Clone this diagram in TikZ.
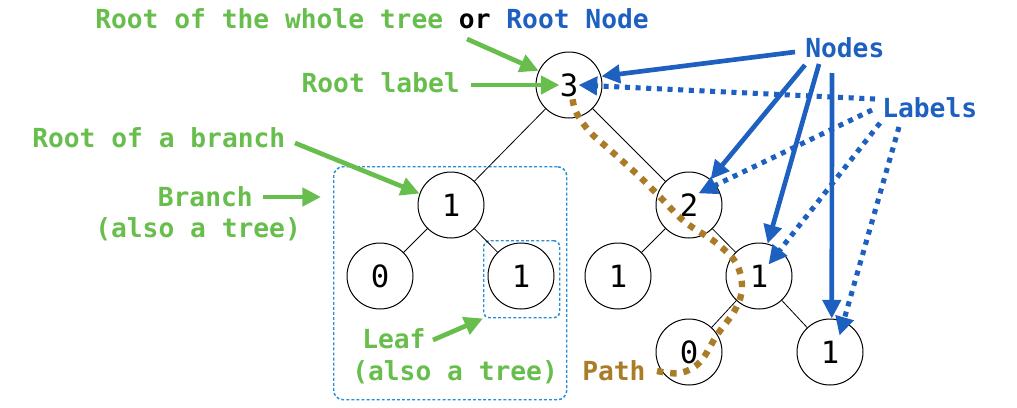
\documentclass[tikz,border=0pt]{standalone}
\usepackage{fontspec}
\setmonofont{DejaVu Sans Mono}
\usetikzlibrary{arrows.meta,calc}
\definecolor{tgreen}{RGB}{104,190,76}
\definecolor{tblue}{RGB}{30,96,192}
\definecolor{tbrown}{RGB}{170,124,40}
\definecolor{tbox}{RGB}{40,140,215}
\begin{document}
\begin{tikzpicture}[x=0.75pt,y=-0.75pt,
  txt/.style={font=\ttfamily\bfseries\fontsize{19.7}{23}\selectfont, inner sep=0pt},
  circ/.style={circle, draw, line width=0.75pt, minimum size=49.5pt, inner sep=0pt},
  dig/.style={font=\ttfamily\fontsize{23}{25}\selectfont, inner sep=0pt},
  garrow/.style={draw=tgreen, line width=3.5pt, -{Triangle[length=14pt,width=13.5pt]}, fill=tgreen},
  barrow/.style={draw=tblue, line width=3.5pt, -{Triangle[length=14pt,width=13.5pt]}},
  bdot/.style={draw=tblue, line width=3.8pt, dash pattern=on 3.8pt off 4.2pt, -{Triangle[length=14pt,width=13.5pt]}},
  brownpath/.style={draw=tbrown, line width=4.8pt, dash pattern=on 4.8pt off 5.2pt},
  dotbox/.style={draw=tbox, line width=1.1pt, dash pattern=on 2.2pt off 1.6pt},
  edge/.style={draw=black, line width=0.6pt}]
\useasboundingbox (0,0) rectangle (1017,407);

% boxes
\node[dotbox, rounded corners=7pt, anchor=north west, minimum width=174.75pt, minimum height=174.75pt] (brbox) at (333,166) {};
\node[dotbox, rounded corners=4pt, anchor=north west, minimum width=57pt, minimum height=57.75pt] (leafbox) at (483,240) {};

% tree nodes
\node[circ] (root) at (569,85) {};
\node[circ] (n1) at (451,205) {};
\node[circ] (n10) at (380,276) {};
\node[circ] (n11) at (521,276) {};
\node[circ] (n2) at (689,205) {};
\node[circ] (n20) at (618,276) {};
\node[circ] (n21) at (759,276) {};
\node[circ] (n210) at (689,352) {};
\node[circ] (n211) at (830,352) {};

\node[dig] (l3) at (root) {3};
\node[dig] (l1) at (n1) {1};
\node[dig] (l10) at (n10) {0};
\node[dig] (l11) at (n11) {1};
\node[dig] (l2) at (n2) {2};
\node[dig] (l20) at (n20) {1};
\node[dig] (l21) at (n21) {1};
\node[dig] (l210) at (n210) {0};
\node[dig] (l211) at (n211) {1};

\draw[edge] (root) -- (n1);
\draw[edge] (root) -- (n2);
\draw[edge] (n1) -- (n10);
\draw[edge] (n1) -- (n11);
\draw[edge] (n2) -- (n20);
\draw[edge] (n2) -- (n21);
\draw[edge] (n21) -- (n210);
\draw[edge] (n21) -- (n211);

% texts
\node[txt, anchor=base west] (title) at (95,28.5) {{\color{tgreen}Root of the whole tree} {\color{black}or} {\color{tblue}Root Node}};
\node[txt, anchor=base east, text=tgreen] (rootlabel) at (460,92.5) {Root label};
\node[txt, anchor=base west, text=tgreen] (rbranch) at (32,147.5) {Root of a branch};
\node[txt, anchor=base east, text=tgreen] (branch) at (253,206.5) {Branch};
\node[txt, anchor=base west, text=tgreen] (branch2) at (95,237) {(also a tree)};
\node[txt, anchor=base west, text=tgreen] (leaf) at (362,348.5) {Leaf};
\node[txt, anchor=base west, text=tgreen] (leaf2) at (352,380) {(also a tree)};
\node[txt, anchor=base west, text=tbrown] (pathlbl) at (582,380) {Path};
\node[txt, anchor=base west, text=tblue] (nodes) at (805,57.5) {Nodes};
\node[txt, anchor=base west, text=tblue] (labels) at (882,117.5) {Labels};

% coordinates of free ends
\coordinate (a1s) at (467,39);
\coordinate (a3s) at (295,143);
\coordinate (a4s) at (263,197);
\coordinate (a4e) at (321,197);
\coordinate (a5s) at (433,340);
\coordinate (b1s) at (795,52);
\coordinate (b2s) at (805,65);
\coordinate (b3s) at (819,64);
\coordinate (b4s) at (832,73);
\coordinate (d1s) at (875,99);
\coordinate (d2s) at (872,110);
\coordinate (d3s) at (880,123);
\coordinate (d4s) at (899,127);

% brown path
\draw[brownpath] plot[smooth, tension=0.6] coordinates {(657,371) (680,373) (700,362) (717,335) (735,310) (742,288) (736,263) (715,242) (685,222) (660,197) (640,177) (610,150) (590,132) (576,112) (572,95)};

% green arrows
\draw[garrow] (a1s) -- (root.155);
\draw[garrow] ($(rootlabel.east |- l3.west)+(11,0)$) -- (l3.west);
\draw[garrow] (a3s) -- (n1.160);
\draw[garrow] (a4s) -- (a4e);
\draw[garrow] (a5s) -- (leafbox.south west);

% blue arrows
\draw[barrow] (b1s) -- (root.15);
\draw[barrow] (b2s) -- (n2.50);
\draw[barrow] (b3s) -- (n21.75);
\draw[barrow] (b4s) -- (n211.87);

\draw[bdot] (d1s) -- (l3.east);
\draw[bdot] (d2s) -- (l2.north east);
\draw[bdot] (d3s) -- (l21.north east);
\draw[bdot] (d4s) -- ($(l211.north east)+(0,-5)$);
\end{tikzpicture}
\end{document}
